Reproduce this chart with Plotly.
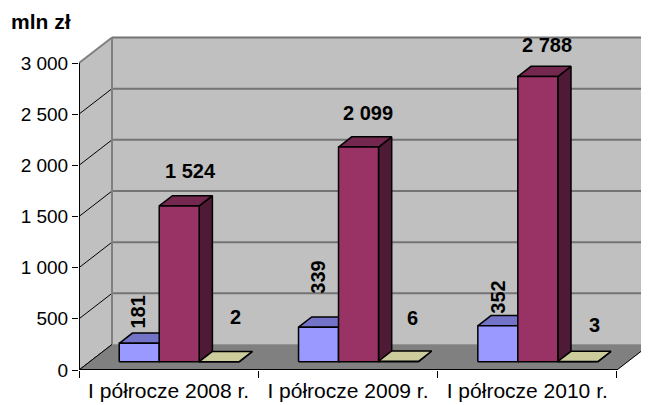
import plotly.graph_objects as go

# ---------------- data ----------------
categories = ["I półrocze 2008 r.", "I półrocze 2009 r.", "I półrocze 2010 r."]
series_a = [181, 339, 352]
series_b = [1524, 2099, 2788]
series_c = [2, 6, 3]
y_tickvals = [0, 500, 1000, 1500, 2000, 2500, 3000]
y_ticktext = ["0", "500", "1 000", "1 500", "2 000", "2 500", "3 000"]
unit_label = "mln zł"

# ---------------- style / geometry ----------------
PAGE_OFF = 8                  # default body margin of the html page
PX_PER_CAT = 179.3
PX_PER_VAL = 0.10233
DX = 33 / PX_PER_CAT          # depth offset (x units)
DY = 25.5 / PX_PER_VAL        # depth offset (value units)
Z0, Z1 = 0.32, 0.72           # bar depth span
BAR_W = 0.223
GROUP_LEFT = -0.3345
W, H = 649 - PAGE_OFF, 405 - PAGE_OFF
ML, MR, MT, MB = 79 - PAGE_OFF, 0, 30 - PAGE_OFF, 35

series = [
    dict(values=series_a, front="#9999FF", top="#7373C8", side="#4D4D80", rot=True,
         shifts=[(-1, 31), (0, 50), (0, 29)]),
    dict(values=series_b, front="#993366", top="#75284F", side="#4E1A35", rot=False,
         shifts=[(11, 35), (9, 34), (9, 32)]),
    dict(values=series_c, front="#FFFFCC", top="#CCCC9C", side="#99997A", rot=False,
         shifts=[(16, 45), (14, 43), (17, 37)]),
]

FONT = "Liberation Sans, Arial, sans-serif"
fig = go.Figure()


def poly(xs, ys, fill, line_color="black", lw=1.5):
    fig.add_trace(go.Scatter(x=xs + [xs[0]], y=ys + [ys[0]], mode="lines", fill="toself",
                             fillcolor=fill, line=dict(color=line_color, width=lw),
                             hoverinfo="skip", showlegend=False))


def line(xs, ys, color, lw):
    fig.add_trace(go.Scatter(x=xs, y=ys, mode="lines", line=dict(color=color, width=lw),
                             hoverinfo="skip", showlegend=False))


ncat = len(categories)
xl, xr = -0.5, ncat - 0.5
vmax = y_tickvals[-1]

# walls
poly([xl, xl, xl + DX, xl + DX], [0, vmax, vmax + DY, DY], "#C0C0C0", "#C0C0C0", 0.5)
poly([xl + DX, xl + DX, xr + DX + 0.2, xr + DX + 0.2], [DY, vmax + DY, vmax + DY, DY],
     "#C0C0C0", "#C0C0C0", 0.5)
# back wall gridlines
for v in y_tickvals[1:]:
    line([xl + DX, xr + DX + 0.2], [v + DY, v + DY], "#747474", 2)
# left wall diagonals
for v in y_tickvals[:-1]:
    line([xl, xl + DX], [v, v + DY], "black", 1)
line([xl, xl + DX], [vmax, vmax + DY], "#808080", 2)
line([xl + DX, xl + DX], [DY, vmax + DY], "#808080", 2)
# floor
poly([xl, xr, xr + DX, xl + DX], [0, 0, DY, DY], "#808080", "#808080", 0.5)
line([xr, xr + DX], [0, DY], "black", 1)
line([xl, xl + DX], [0, DY], "black", 1)
# axis lines
line([xl, xr], [0, 0], "black", 2)
line([xl, xl], [0, vmax], "black", 2)

# bars
ddx, ddy = (Z1 - Z0) * DX, (Z1 - Z0) * DY
base = Z0 * DY
for i in range(ncat):
    for s, ser in enumerate(series):
        v = ser["values"][i]
        x0 = i + GROUP_LEFT + s * BAR_W + Z0 * DX
        x1 = x0 + BAR_W
        t = base + v
        poly([x1, x1 + ddx, x1 + ddx, x1], [base, base + ddy, t + ddy, t], ser["side"])
        poly([x0, x1, x1 + ddx, x0 + ddx], [t, t, t + ddy, t + ddy], ser["top"])
        poly([x0, x1, x1, x0], [base, base, t, t], ser["front"])

# data labels
for s, ser in enumerate(series):
    for i in range(ncat):
        v = ser["values"][i]
        xc = i + GROUP_LEFT + (s + 0.5) * BAR_W + Z0 * DX
        sx, sy = ser["shifts"][i]
        fig.add_annotation(x=xc, y=base + v, text=f"{v:,}".replace(",", " "),
                           showarrow=False, xshift=sx, yshift=sy,
                           textangle=-90 if ser["rot"] else 0,
                           xanchor="center", yanchor="middle",
                           font=dict(family=FONT, size=20, color="black", weight="bold"))

# unit title
plot_w = W - ML - MR
plot_h = H - MT - MB
fig.add_annotation(xref="paper", yref="paper", x=(9 - 79) / plot_w, y=(370 - 21) / plot_h,
                   text=f"<b>{unit_label}</b>", showarrow=False, xanchor="left", yanchor="middle",
                   font=dict(family=FONT, size=21, color="black"))

fig.update_layout(
    width=W, height=H,
    margin=dict(l=ML, r=MR, t=MT, b=MB, pad=0, autoexpand=False),
    paper_bgcolor="white", plot_bgcolor="white",
    showlegend=False,
    xaxis=dict(range=[xl, xl + plot_w / PX_PER_CAT], tickmode="array", automargin=False,
               tickvals=list(range(ncat)), ticktext=categories, ticks="",
               ticklabelstandoff=6,
               showgrid=False, zeroline=False, showline=False, fixedrange=True,
               tickfont=dict(family=FONT, size=21, color="black"),
               minor=dict(tickmode="array", tickvals=[xl + k for k in range(ncat + 1)],
                          ticks="outside", ticklen=7, tickcolor="black", tickwidth=1,
                          showgrid=False)),
    yaxis=dict(range=[0, plot_h / PX_PER_VAL], tickmode="array", tickvals=y_tickvals,
               ticktext=y_ticktext, ticks="outside", ticklen=6, tickcolor="black",
               automargin=False,
               showgrid=False, zeroline=False, showline=False, fixedrange=True,
               tickfont=dict(family=FONT, size=19, color="black")),
)

fig.write_html("out.html")
